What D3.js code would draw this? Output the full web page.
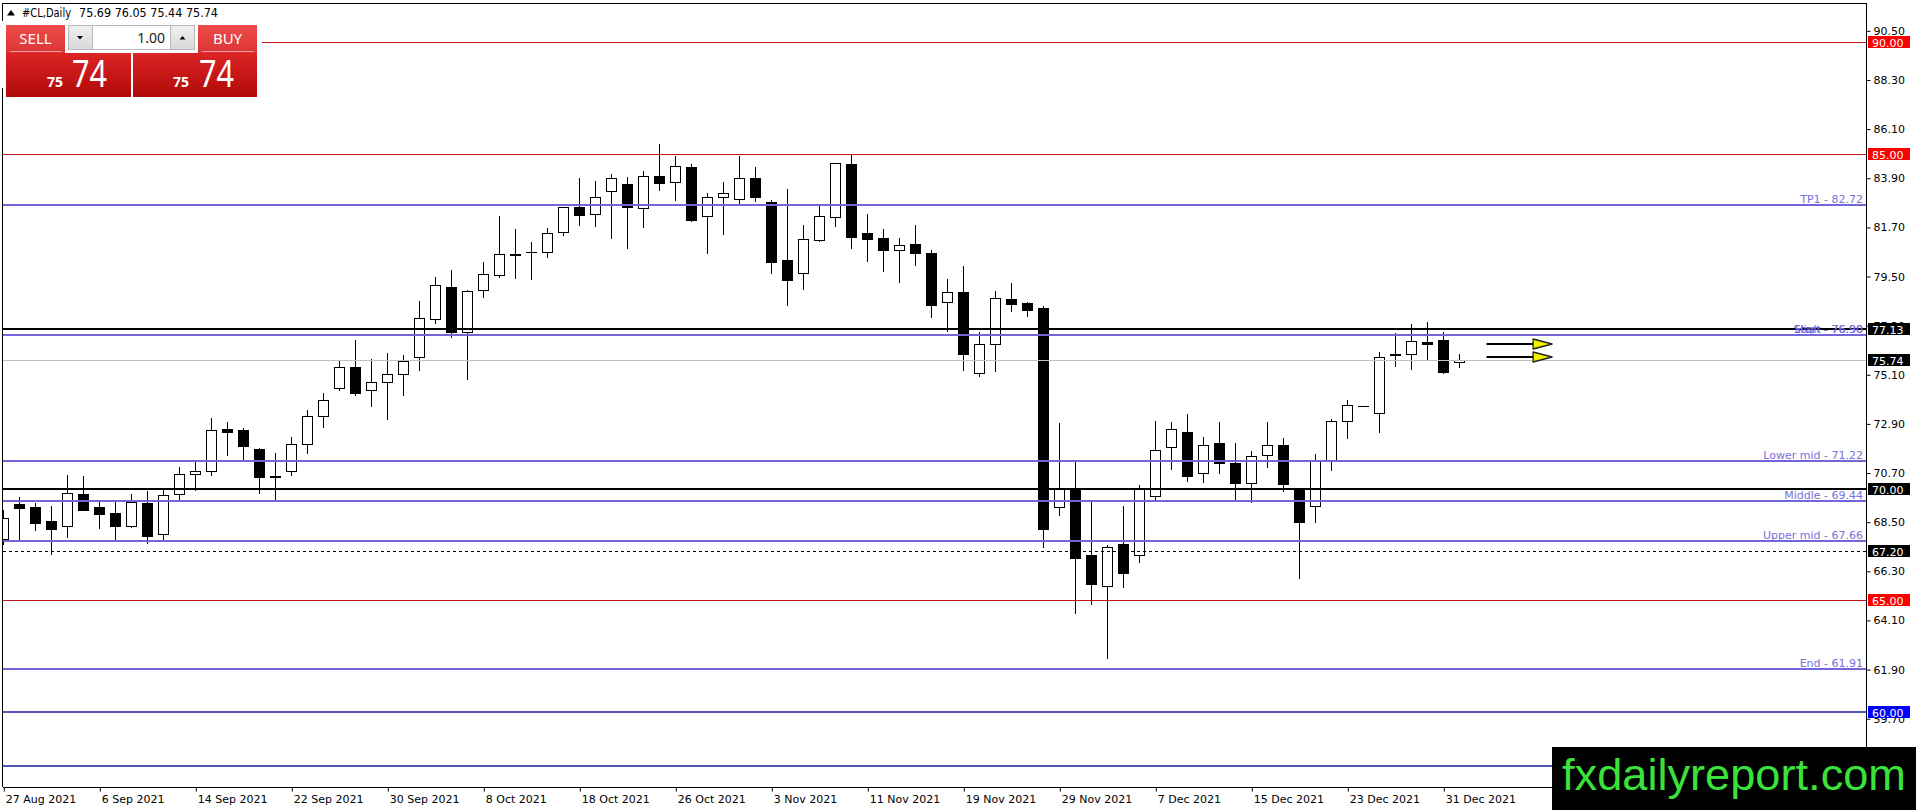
<!DOCTYPE html>
<html><head><meta charset="utf-8">
<script src="https://cdnjs.cloudflare.com/ajax/libs/d3/7.8.5/d3.min.js"></script>
<style>html,body{margin:0;padding:0;background:#fff;overflow:hidden}</style>
</head><body>
<svg id="c" width="1916" height="810" xmlns="http://www.w3.org/2000/svg"></svg>
<script>
// ---------------- DATA ----------------
const dates = ["2021-08-27","2021-08-30","2021-08-31",
"2021-09-01","2021-09-02","2021-09-03","2021-09-06","2021-09-07","2021-09-08","2021-09-09","2021-09-10",
"2021-09-13","2021-09-14","2021-09-15","2021-09-16","2021-09-17","2021-09-20","2021-09-21","2021-09-22",
"2021-09-23","2021-09-24","2021-09-27","2021-09-28","2021-09-29","2021-09-30",
"2021-10-01","2021-10-04","2021-10-05","2021-10-06","2021-10-07","2021-10-08","2021-10-11","2021-10-12",
"2021-10-13","2021-10-14","2021-10-15","2021-10-18","2021-10-19","2021-10-20","2021-10-21","2021-10-22",
"2021-10-25","2021-10-26","2021-10-27","2021-10-28","2021-10-29",
"2021-11-01","2021-11-02","2021-11-03","2021-11-04","2021-11-05","2021-11-08","2021-11-09","2021-11-10",
"2021-11-11","2021-11-12","2021-11-15","2021-11-16","2021-11-17","2021-11-18","2021-11-19","2021-11-22",
"2021-11-23","2021-11-24","2021-11-25","2021-11-26","2021-11-29","2021-11-30",
"2021-12-01","2021-12-02","2021-12-03","2021-12-06","2021-12-07","2021-12-08","2021-12-09","2021-12-10",
"2021-12-13","2021-12-14","2021-12-15","2021-12-16","2021-12-17","2021-12-20","2021-12-21","2021-12-22",
"2021-12-23","2021-12-24","2021-12-27","2021-12-28","2021-12-29","2021-12-30","2021-12-31","2022-01-03"];

const open = [67.73,69.31,69.18,68.55,68.31,69.76,69.18,68.91,68.34,69.36,67.95,
69.74,70.64,70.79,72.65,72.62,71.77,70.57,70.80,71.98,73.24,74.49,75.43,74.40,74.76,
75.12,75.88,77.58,79.01,77.03,78.88,79.55,80.52,80.58,80.58,81.48,82.60,82.31,83.34,83.64,82.58,
84.00,83.72,84.39,82.22,83.07,
82.98,83.90,82.85,80.24,79.64,81.12,82.15,84.52,81.43,81.21,80.67,80.94,80.54,78.34,78.79,75.16,
76.48,78.48,78.30,78.07,69.19,70.04,
67.03,65.64,67.51,67.01,69.69,71.85,72.52,70.69,72.03,71.13,70.27,71.49,71.94,70.01,69.24,71.22,
73.01,73.69,73.37,76.04,76.03,76.55,76.65,75.69];

const high = [69.04,69.64,69.37,69.22,70.61,70.56,69.42,69.42,69.74,69.88,69.94,
70.95,71.28,73.18,73.00,72.70,71.80,71.58,72.30,73.52,74.27,75.76,76.66,75.80,76.06,
75.98,78.40,79.46,79.79,78.89,80.16,82.21,81.63,81.04,81.69,82.62,83.91,83.78,84.09,83.94,84.22,
85.43,84.90,84.54,83.22,83.75,
84.90,84.42,82.92,83.40,81.80,82.70,84.60,84.94,82.30,81.61,81.21,81.80,80.69,79.37,79.97,77.03,
78.85,79.19,78.36,78.18,72.92,71.21,
69.42,67.48,69.22,70.16,73.03,72.97,73.34,72.33,72.98,72.03,71.68,72.97,72.28,70.05,71.55,73.10,
73.97,73.69,76.13,76.95,77.37,77.46,77.03,76.05];

const low = [67.52,67.70,68.15,67.07,67.85,69.04,68.25,67.70,68.30,67.55,67.70,
69.52,69.94,70.61,71.50,71.28,69.82,69.49,70.61,71.61,72.77,74.42,74.19,73.71,73.12,
74.19,75.31,77.43,76.80,74.91,78.60,79.50,79.45,79.40,80.36,81.36,81.82,81.78,81.24,80.79,81.73,
83.37,82.93,82.00,80.57,81.40,
82.78,82.88,79.67,78.24,78.95,81.10,81.78,80.79,80.21,79.76,79.27,80.03,77.67,77.07,75.31,75.04,
75.28,77.97,77.74,67.40,68.82,64.42,
64.82,62.43,65.58,66.73,69.54,70.88,70.36,70.31,70.72,69.49,69.39,70.98,69.89,66.01,68.52,70.83,
72.28,73.69,72.55,75.51,75.34,75.76,75.16,75.44];

const close = [68.67,69.12,68.48,68.21,69.79,69.06,68.88,68.34,69.40,67.89,69.71,
70.64,70.79,72.62,72.55,71.92,70.54,70.52,71.98,73.24,73.95,75.43,74.30,74.76,75.12,
75.73,77.63,79.10,77.03,78.83,79.61,80.49,80.47,80.58,81.43,82.60,82.27,83.04,83.90,82.63,83.98,
83.70,84.43,82.05,83.04,83.22,
83.90,83.07,80.16,79.36,81.16,82.19,84.57,81.28,81.16,80.67,80.92,80.57,78.21,78.82,76.01,76.48,
78.52,78.28,78.01,68.18,70.01,66.91,
65.72,67.37,66.21,70.01,71.72,72.66,70.58,71.95,71.13,70.24,71.46,71.94,70.19,68.52,71.22,73.01,
73.73,73.69,75.91,76.00,76.60,76.46,75.24,75.74];

const tickDates  = ["2021-08-27","2021-09-06","2021-09-14","2021-09-22","2021-09-30","2021-10-08",
"2021-10-18","2021-10-26","2021-11-03","2021-11-11","2021-11-19","2021-11-29","2021-12-07",
"2021-12-15","2021-12-23","2021-12-31"];
const tickLabels = ["27 Aug 2021","6 Sep 2021","14 Sep 2021","22 Sep 2021","30 Sep 2021","8 Oct 2021",
"18 Oct 2021","26 Oct 2021","3 Nov 2021","11 Nov 2021","19 Nov 2021","29 Nov 2021","7 Dec 2021",
"15 Dec 2021","23 Dec 2021","31 Dec 2021"];

const priceTicks = [90.50,88.30,86.10,83.90,81.70,79.50,77.30,75.10,72.90,70.70,68.50,66.30,64.10,61.90,59.70];

// horizontal levels
const levelPrices = [90.00,85.00,82.72,77.13,76.90,76.90,75.74,71.22,70.00,69.44,67.66,67.20,65.00,61.91,60.00,57.60];
const levelKinds  = ["red","red","zone","black","blue","zone","bid","zone","black","zone","zone","dash","red","zone","navy","navy"];
const levelTexts  = ["","","TP1 - 82.72","","Start - 76.90","High - 76.90","","Lower mid - 71.22","","Middle - 69.44",
"Upper mid - 67.66","","","End - 61.91","",""];
const levelBoxes  = ["90.00","85.00","","77.13","","","75.74","","70.00","","","67.20","65.00","","60.00",""];

// arrow objects (price, bar-index start, bar-index end)
const arrowPrices = [76.49, 75.89];
const arrowFrom = [92.7, 92.7];
const arrowTo = [96.8, 96.8];

const symbolTitle = "#CL,Daily";
const lastOHLC = "75.69 76.05 75.44 75.74";
const lotSize = "1.00";
const bidBig = "74", bidSmall = "75", askBig = "74", askSmall = "75";

// ---------------- STYLE / LAYOUT ----------------
const W = 1916, H = 810;
const PL = 3, PR = 1866, PT = 3, PB = 787;
const FONT = "'DejaVu Sans', Tahoma, sans-serif";
const kindStyle = {
  red:   {stroke:"#c01818", w:1,   dash:null, box:"#ff0000", text:"#c01818"},
  zone:  {stroke:"#7466d8", w:2,   dash:null, box:"#7466d4", text:"#7a70dc"},
  black: {stroke:"#000000", w:2,   dash:null, box:"#000000", text:"#000"},
  blue:  {stroke:"#4242d8", w:2,   dash:null, box:"#4242d8", text:"#4a4ad8"},
  bid:   {stroke:"#c0c0c0", w:1,   dash:null, box:"#000000", text:"#000"},
  dash:  {stroke:"#000000", w:1,   dash:"3,3", box:"#000000", text:"#000"},
  navy:  {stroke:"#1c1ca0", w:1.5, dash:null, box:"#0000ff", text:"#1c1ca0"}
};

const svg = d3.select("#c");
svg.append("rect").attr("width",W).attr("height",H).attr("fill","#fff");

const idx = d3.scaleLinear().domain([0, 1]).range([3.3, 19.3]);   // bar index -> px
const y = d3.scaleLinear().domain([90, 60]).range([42, 712]);      // price -> px
const px = v => Math.round(v) + 0.5;

const defs = svg.append("defs");
defs.append("clipPath").attr("id","plot").append("rect")
  .attr("x",PL).attr("y",PT).attr("width",PR-PL).attr("height",PB-PT);

// ---------------- CANDLES ----------------
const plot = svg.append("g").attr("clip-path","url(#plot)");
const bars = dates.map((d,i)=>({d,i,o:open[i],h:high[i],l:low[i],c:close[i]}));
const cg = plot.selectAll("g.bar").data(bars).join("g").attr("class","bar");
cg.each(function(b){
  const g = d3.select(this);
  const cx = px(idx(b.i));
  if (b.h !== b.l) {
    g.append("line").attr("x1",cx).attr("x2",cx)
      .attr("y1",Math.round(y(b.h))).attr("y2",Math.round(y(b.l))+1)
      .attr("stroke","#000").attr("stroke-width",1);
  }
  const top = px(y(Math.max(b.o,b.c))), bot = px(y(Math.min(b.o,b.c)));
  const bull = b.c >= b.o;
  if (bot - top < 0.5) {
    g.append("line").attr("x1",cx-5.5).attr("x2",cx+5.5).attr("y1",top).attr("y2",top)
      .attr("stroke","#000").attr("stroke-width",1);
  } else {
    g.append("rect").attr("x",cx-5).attr("y",top).attr("width",10).attr("height",bot-top)
      .attr("fill", bull ? "#fff" : "#000").attr("stroke","#000").attr("stroke-width",1);
  }
});

// ---------------- LEVEL LINES ----------------
const levels = levelPrices.map((p,i)=>({p,kind:levelKinds[i],text:levelTexts[i],box:levelBoxes[i]}));
const lg = svg.append("g");
levels.forEach(l=>{
  const s = kindStyle[l.kind];
  const yy = s.w % 2 === 1 ? px(y(l.p)) : Math.round(y(l.p));
  lg.append("line").attr("x1",PL).attr("x2",PR).attr("y1",yy).attr("y2",yy)
    .attr("stroke",s.stroke).attr("stroke-width",s.w)
    .attr("stroke-dasharray",s.dash);
});
levels.filter(l=>l.text).forEach(l=>{
  const s = kindStyle[l.kind];
  lg.append("text").attr("x",1863).attr("y",Math.round(y(l.p))-2)
    .attr("text-anchor","end").attr("font-family",FONT).attr("font-size",11)
    .attr("fill",s.text).text(l.text);
});

// arrows
arrowPrices.forEach((p,i)=>{
  const yy = Math.round(y(p));
  const x0 = idx(arrowFrom[i]), x1 = idx(arrowTo[i]);
  lg.append("line").attr("x1",x0).attr("x2",x1-19).attr("y1",yy).attr("y2",yy)
    .attr("stroke","#000").attr("stroke-width",1.8);
  lg.append("path").attr("d",`M${x1-19},${yy-5}L${x1},${yy}L${x1-19},${yy+5}Z`)
    .attr("fill","#f2f200").attr("stroke","#222").attr("stroke-width",1.3).attr("stroke-linejoin","round");
});

// ---------------- FRAME & AXES ----------------
const fg = svg.append("g").attr("shape-rendering","crispEdges");
fg.append("line").attr("x1",PL).attr("x2",PR).attr("y1",PT+0.5).attr("y2",PT+0.5).attr("stroke","#000");
fg.append("line").attr("x1",PL-0.5).attr("x2",PL-0.5).attr("y1",PT).attr("y2",PB).attr("stroke","#000");
fg.append("line").attr("x1",PR+0.5).attr("x2",PR+0.5).attr("y1",PT).attr("y2",H).attr("stroke","#000");
fg.append("line").attr("x1",PL).attr("x2",PR).attr("y1",PB+0.5).attr("y2",PB+0.5).attr("stroke","#000");

// right price axis
const yAxis = d3.axisRight(y).tickValues(priceTicks).tickFormat(d3.format(".2f")).tickSize(4).tickPadding(3);
const ya = svg.append("g").attr("transform",`translate(${PR+0.5},0)`).call(yAxis);
ya.select(".domain").remove();
ya.selectAll("text").attr("font-family",FONT).attr("font-size",11).attr("fill","#000");
ya.selectAll("line").attr("stroke","#000");

// boxes on price axis
levels.filter(l=>l.box).forEach(l=>{
  const s = kindStyle[l.kind];
  const yy = y(l.p);
  svg.append("rect").attr("x",1868).attr("y",Math.round(yy)-6).attr("width",42).attr("height",12)
    .attr("fill",s.box);
  svg.append("text").attr("x",1872).attr("y",Math.round(yy)+4.5)
    .attr("font-family",FONT).attr("font-size",11).attr("fill","#fff").text(l.box);
});

// bottom date axis
const tickIdx = tickDates.map(t=>dates.indexOf(t));
const xAxis = d3.axisBottom(idx).tickValues(tickIdx).tickSize(4)
  .tickFormat((d,i)=>tickLabels[i]);
const xa = svg.append("g").attr("transform",`translate(0,${PB+0.5})`).call(xAxis);
xa.select(".domain").remove();
xa.selectAll(".tick line").attr("stroke","#000").attr("transform","translate(0.5,0)");
xa.selectAll("text").attr("font-family",FONT).attr("font-size",11).attr("fill","#000")
  .attr("text-anchor","start").attr("dx",2).attr("dy",0).attr("y",15);

// ---------------- TITLE ----------------
svg.append("path").attr("d","M7,15.5L15,15.5L11,10Z").attr("fill","#000");
svg.append("text").attr("x",22).attr("y",17).attr("font-family",FONT).attr("font-size",12)
  .attr("textLength",49).attr("lengthAdjust","spacingAndGlyphs").text(symbolTitle);
svg.append("text").attr("x",79).attr("y",17).attr("font-family",FONT).attr("font-size",12)
  .attr("textLength",139).attr("lengthAdjust","spacingAndGlyphs").text(lastOHLC);

// ---------------- TRADE PANEL ----------------
const gr1 = defs.append("linearGradient").attr("id","btn").attr("x1",0).attr("y1",0).attr("x2",0).attr("y2",1);
gr1.append("stop").attr("offset","0%").attr("stop-color","#ee4c4c");
gr1.append("stop").attr("offset","100%").attr("stop-color","#dc3434");
const gr2 = defs.append("linearGradient").attr("id","pbox").attr("x1",0).attr("y1",0).attr("x2",0).attr("y2",1);
gr2.append("stop").attr("offset","0%").attr("stop-color","#dc2424");
gr2.append("stop").attr("offset","100%").attr("stop-color","#b00a0a");
const gr3 = defs.append("linearGradient").attr("id","gbtn").attr("x1",0).attr("y1",0).attr("x2",0).attr("y2",1);
gr3.append("stop").attr("offset","0%").attr("stop-color","#f0f0f0");
gr3.append("stop").attr("offset","100%").attr("stop-color","#d8d8d8");

const panel = svg.append("g");
panel.append("rect").attr("x",0).attr("y",21).attr("width",262).attr("height",67).attr("fill","#fff");
panel.append("rect").attr("x",6).attr("y",25).attr("width",59).attr("height",28).attr("fill","url(#btn)");
panel.append("line").attr("x1",10).attr("x2",62).attr("y1",51.5).attr("y2",51.5).attr("stroke","#f49a9a");
panel.append("rect").attr("x",198).attr("y",25).attr("width",59).attr("height",28).attr("fill","url(#btn)");
panel.append("line").attr("x1",202).attr("x2",254).attr("y1",51.5).attr("y2",51.5).attr("stroke","#f49a9a");
panel.append("rect").attr("x",68.5).attr("y",25.5).attr("width",24).attr("height",24).attr("fill","url(#gbtn)").attr("stroke","#b8b8b8");
panel.append("rect").attr("x",92.5).attr("y",25.5).attr("width",78).attr("height",24).attr("fill","#fff").attr("stroke","#b8b8b8");
panel.append("rect").attr("x",170.5).attr("y",25.5).attr("width",24).attr("height",24).attr("fill","url(#gbtn)").attr("stroke","#b8b8b8");
panel.append("path").attr("d","M77,36L83,36L80,39.5Z").attr("fill","#000");
panel.append("path").attr("d","M179.5,39.5L185.5,39.5L182.5,36Z").attr("fill","#000");
panel.append("text").attr("x",165).attr("y",43).attr("text-anchor","end").attr("font-family","'Noto Sans', sans-serif")
  .attr("font-size",14).attr("fill","#222").text(lotSize);
panel.append("text").attr("x",35.5).attr("y",44).attr("text-anchor","middle").attr("font-family","'Noto Sans', sans-serif")
  .attr("font-size",15).attr("fill","#fff").text("SELL");
panel.append("text").attr("x",227.5).attr("y",44).attr("text-anchor","middle").attr("font-family","'Noto Sans', sans-serif")
  .attr("font-size",15).attr("fill","#fff").text("BUY");
panel.append("rect").attr("x",6).attr("y",53).attr("width",125).attr("height",44).attr("fill","url(#pbox)");
panel.append("rect").attr("x",133).attr("y",53).attr("width",124).attr("height",44).attr("fill","url(#pbox)");
[[47,72,bidSmall,bidBig],[173,199,askSmall,askBig]].forEach(([xs,xb,s,b])=>{
  panel.append("text").attr("x",xs).attr("y",87).attr("font-family","'Noto Sans', sans-serif")
    .attr("font-weight","bold").attr("font-size",14).attr("fill","#fff").text(s);
  panel.append("text").attr("x",xb).attr("y",87).attr("font-family","'Noto Sans', sans-serif")
    .attr("font-size",38).attr("fill","#fff").attr("textLength",35).attr("lengthAdjust","spacingAndGlyphs").text(b);
});

// ---------------- WATERMARK ----------------
svg.append("rect").attr("x",1552).attr("y",747).attr("width",364).attr("height",63).attr("fill","#000");
svg.append("text").attr("x",1562).attr("y",790).attr("font-family","'Liberation Sans Narrow','Liberation Sans',Arial,sans-serif")
  .attr("font-size",44).attr("fill","#3be23b").attr("textLength",344).attr("lengthAdjust","spacingAndGlyphs")
  .text("fxdailyreport.com");
</script>
</body></html>
